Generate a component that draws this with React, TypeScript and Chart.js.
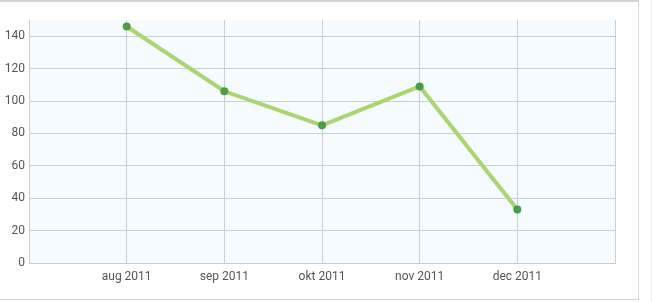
import React, { useEffect, useRef } from "react";
import { Chart, registerables } from "chart.js";

Chart.register(...registerables);

const categories = ["", "aug 2011", "sep 2011", "okt 2011", "nov 2011", "dec 2011", ""];
const values = [null, 146, 106, 85, 109, 33, null];
const yTicks = [0, 20, 40, 60, 80, 100, 120, 140];

const bgPlugin = {
  id: "plotBg",
  beforeDraw(chart: any) {
    const { ctx, chartArea } = chart;
    ctx.save();
    ctx.fillStyle = "#f5fbff";
    ctx.fillRect(chartArea.left, chartArea.top, chartArea.right - chartArea.left, chartArea.bottom - chartArea.top);
    ctx.restore();
  },
};

export default function App() {
  const ref = useRef<HTMLCanvasElement>(null);
  useEffect(() => {
    document.body.style.margin = "0";
    const chart = new Chart(ref.current!, {
      type: "line",
      data: {
        labels: categories,
        datasets: [
          {
            data: values,
            borderColor: "#a9d66f",
            borderWidth: 4,
            pointBackgroundColor: "#4a9e48",
            pointBorderWidth: 0,
            pointRadius: 4,
            tension: 0,
            spanGaps: false,
          },
        ],
      },
      options: {
        animation: false,
        responsive: false,
        maintainAspectRatio: false,
        layout: { padding: { top: 18, right: 23, left: 0, bottom: 0 } },
        plugins: { legend: { display: false }, tooltip: { enabled: false } },
        scales: {
          x: {
            offset: false,
            grid: { color: "#c9d0d5", drawTicks: false },
            border: { color: "#c9d0d5" },
            ticks: {
              padding: 7,
              color: "#555",
              font: { family: "Roboto", size: 12 },
              maxRotation: 0,
              autoSkip: false,
            },
            afterFit(scale: any) {
              scale.height = 36;
            },
          },
          y: {
            min: 0,
            max: 150,
            grid: { color: "#c9d0d5", drawTicks: false },
            border: { color: "#c9d0d5" },
            ticks: {
              padding: 4,
              color: "#555",
              font: { family: "Roboto", size: 12 },
            },
            afterBuildTicks(scale: any) {
              scale.ticks = yTicks.map((v) => ({ value: v }));
            },
            afterFit(scale: any) {
              scale.width = 29;
            },
          },
        },
      },
      plugins: [bgPlugin],
    });
    return () => chart.destroy();
  }, []);
  return (
    <div style={{ position: "relative", width: 652, height: 302 }}>
      <div
        style={{
          position: "absolute",
          left: -1,
          top: 0,
          width: 638,
          height: 297,
          border: "1px solid #d4d4d4",
          borderTop: "2px solid #d4d4d4",
          boxSizing: "content-box",
        }}
      >
        <canvas ref={ref} width={638} height={297} style={{ display: "block" }} />
      </div>
      <div style={{ position: "absolute", left: 651, top: 0, width: 1, height: 302, background: "#ececec" }} />
    </div>
  );
}
